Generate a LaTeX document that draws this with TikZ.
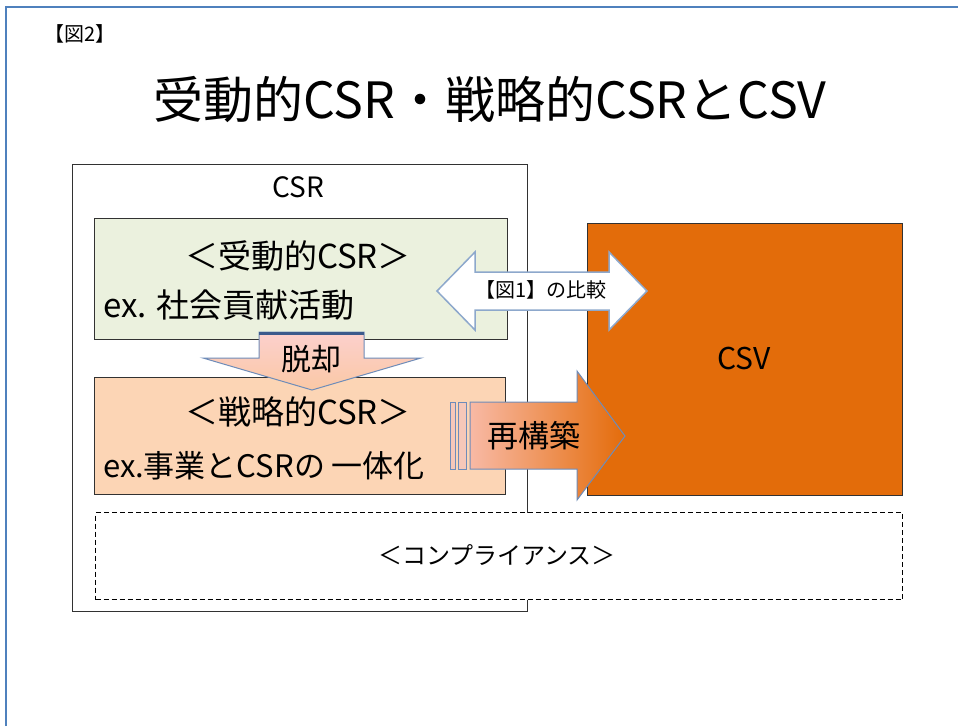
\documentclass[tikz,border=0pt]{standalone}
\usepackage{fontspec}
\setmainfont{Noto Sans CJK JP}
\definecolor{pageblue}{RGB}{79,129,189}
\definecolor{greenfill}{RGB}{235,241,222}
\definecolor{peach}{RGB}{252,213,181}
\definecolor{csvorange}{RGB}{227,108,10}
\definecolor{boxline}{RGB}{50,50,50}
\definecolor{arrowline}{RGB}{141,168,204}
\definecolor{arrowline2}{RGB}{110,140,185}
\definecolor{darkblue}{RGB}{60,90,140}
\definecolor{pinkA}{RGB}{248,185,165}
\definecolor{orangeB}{RGB}{228,108,10}
\definecolor{pinkC}{RGB}{252,208,205}
\definecolor{peachD}{RGB}{250,200,165}
\definecolor{barfill}{RGB}{246,200,185}
\begin{document}
\begin{tikzpicture}[x=1pt,y=-1pt,
  box/.style={draw=boxline, line width=1pt, inner sep=0pt, anchor=north west},
  txt/.style={inner sep=0pt, text=black},
  fs/.style={font=\fontsize{#1}{#1}\selectfont},
  blockarrow/.style={draw=arrowline2, line width=1pt, line join=miter}
]
\useasboundingbox (0,0) rectangle (958,726);
\fill[white] (0,0) rectangle (958,726);
\draw[pageblue, line width=1.5pt] (6,726) -- (6,7) -- (958,7);

\node[txt, fs=20] (fig2) at (80,34) {【図2】};
\node[txt, fs=50] (title) at (490,100) {受動的CSR・戦略的CSRとCSV};

% boxes
\node[box, minimum width=455pt, minimum height=447pt] (csr) at (72,164) {};
\node[txt, fs=28] (csrlabel) at (298,187) {CSR};
\node[box, fill=greenfill, minimum width=413pt, minimum height=121pt] (passive) at (94,218) {};
\node[box, fill=peach, minimum width=411pt, minimum height=117pt] (strategic) at (94,377) {};
\node[box, draw=black, dash pattern=on 5pt off 3pt, fill=white, minimum width=807pt, minimum height=87pt] (compliance) at (95,512) {};
\node[box, fill=csvorange, minimum width=315pt, minimum height=272pt] (csv) at (587,223) {};

% texts in boxes
\node[txt, fs=33] (passivetitle) at (298,256) {＜受動的CSR＞};
\node[txt, fs=33, anchor=west] (passiveex) at (103,305) {ex. 社会貢献活動};
\node[txt, fs=33] (strattitle) at (298,412) {＜戦略的CSR＞};
\node[txt, fs=31, anchor=west] (stratex) at (103,466) {ex.事業とCSRの 一体化};
\node[txt, fs=30] (csvlabel) at (744,358) {CSV};
\node[txt, fs=24] (complabel) at (497,555) {＜コンプライアンス＞};

% double arrow (comparison)
\draw[draw=arrowline, line width=1.5pt, line join=miter, fill=white]
  (437,291) -- (475,252) -- (475,272) -- (609,272) -- (609,252) -- (647,291)
  -- (609,330) -- (609,310) -- (475,310) -- (475,330) -- cycle;
\node[txt, fs=20] (compare) at (541,290) {【図1】の比較};

% down arrow (breakaway)
\draw[blockarrow, top color=pinkC, bottom color=peachD]
  (259,332) -- (364,332) -- (364,358) -- (421,358) -- (312,390) -- (203,358) -- (259,358) -- cycle;
\draw[darkblue, line width=3pt] (259,333) -- (364,333);
\node[txt, fs=30] (breakaway) at (311,359) {脱却};

% striped right arrow (reconstruction)
\draw[blockarrow, fill=barfill] (450,402) rectangle (455,469);
\draw[blockarrow, fill=barfill] (458,402) rectangle (466,469);
\draw[blockarrow, left color=pinkA, right color=orangeB]
  (470,402) -- (577,402) -- (577,371) -- (625,436) -- (577,500) -- (577,469) -- (470,469) -- cycle;
\node[txt, fs=31] (rebuild) at (534,436) {再構築};
\end{tikzpicture}
\end{document}
